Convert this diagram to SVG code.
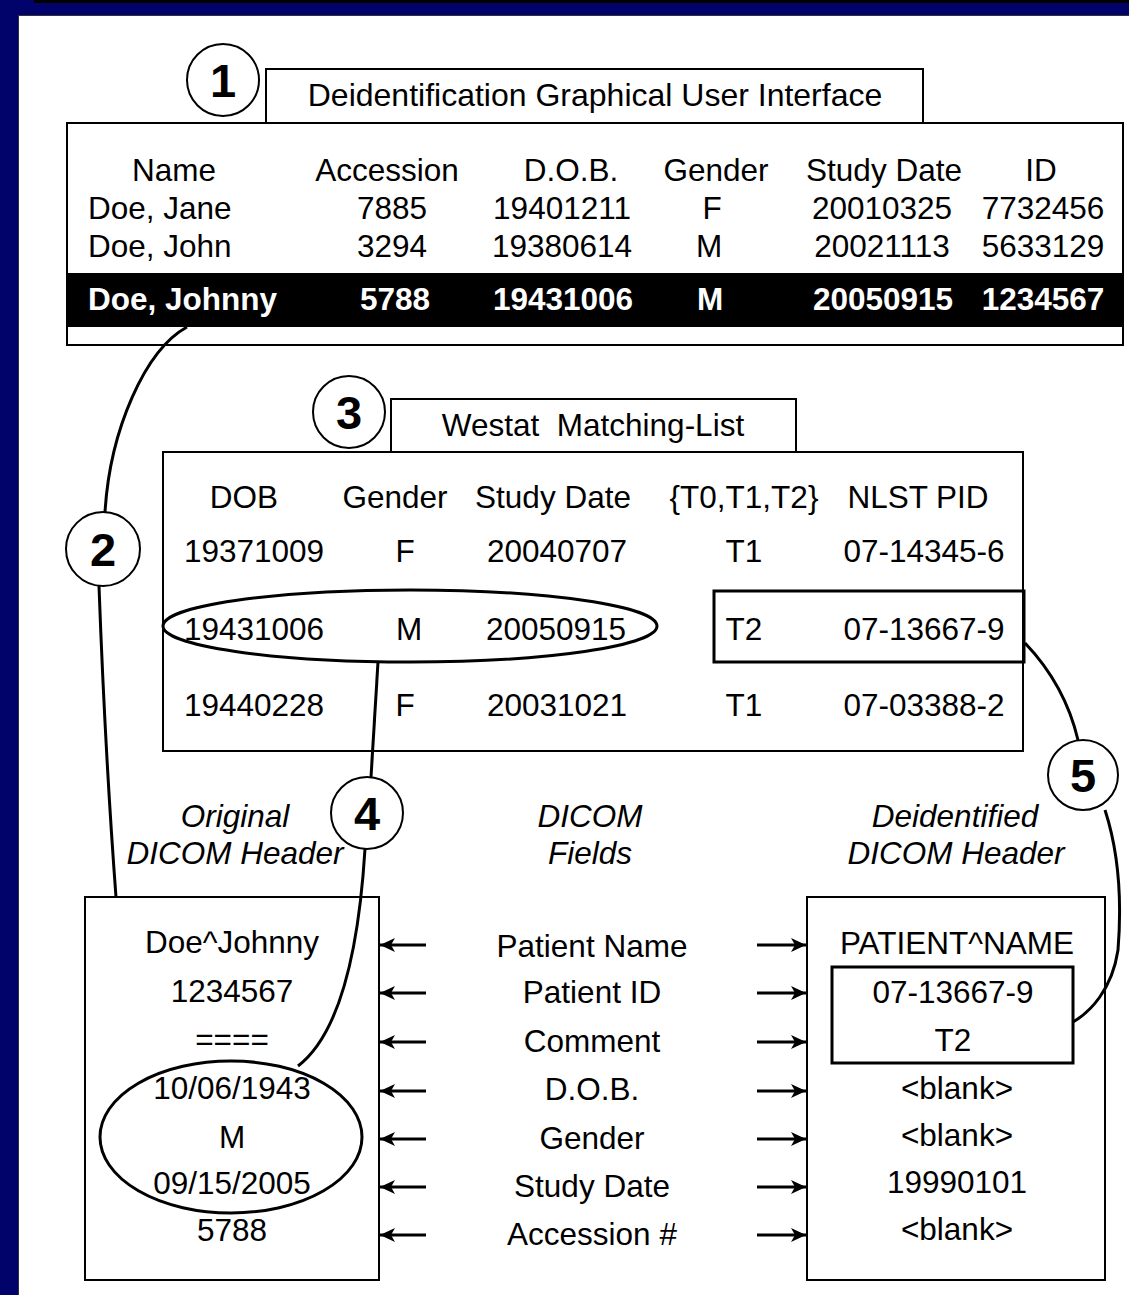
<svg xmlns="http://www.w3.org/2000/svg" width="1129" height="1295" viewBox="0 0 1129 1295">
<defs>
<style>
text{font-family:"Liberation Sans",Arial,sans-serif;font-size:31.5px;fill:#000}
.m{text-anchor:middle}
.t{font-size:32px}
.b{font-weight:bold;fill:#fff}
.i{font-style:italic}
.num{font-weight:bold;font-size:47px;text-anchor:middle}
.box{fill:#fff;stroke:#000;stroke-width:2}
.hl{fill:none;stroke:#000;stroke-width:3}
.circ{fill:#fff;stroke:#000;stroke-width:2}
.con{fill:none;stroke:#000;stroke-width:3}
.arr{stroke:#000;stroke-width:3;marker-end:url(#ah)}
</style>
<marker id="ah" markerUnits="userSpaceOnUse" markerWidth="18" markerHeight="16" viewBox="-16 -8 18 16" refX="0" refY="0" orient="auto">
<path d="M0,0 L-15,-7 L-11,0 L-15,7 Z" fill="#000"/>
</marker>
</defs>
<rect width="1129" height="1295" fill="#02026b"/>
<rect x="34" y="0" width="1095" height="3" fill="#000"/>
<rect x="18" y="15" width="1111" height="1280" fill="#333"/>
<rect x="19" y="16" width="1110" height="1279" fill="#fff"/>

<g id="gui">
<rect class="box" x="266" y="69" width="657" height="54"/>
<text class="m t" x="595" y="106">Deidentification Graphical User Interface</text>
<rect class="box" x="67" y="123" width="1056" height="222"/>
<rect x="67" y="273" width="1056" height="54" fill="#000"/>
<text class="m" x="174" y="181">Name</text>
<text class="m" x="387" y="181">Accession</text>
<text class="m" x="571" y="181">D.O.B.</text>
<text class="m" x="716" y="181">Gender</text>
<text class="m" x="884" y="181">Study Date</text>
<text class="m" x="1041" y="181">ID</text>
<text x="88" y="219">Doe, Jane</text>
<text class="m" x="392" y="219">7885</text>
<text class="m" x="562" y="219">19401211</text>
<text class="m" x="712" y="219">F</text>
<text class="m" x="882" y="219">20010325</text>
<text class="m" x="1043" y="219">7732456</text>
<text x="88" y="257">Doe, John</text>
<text class="m" x="392" y="257">3294</text>
<text class="m" x="562" y="257">19380614</text>
<text class="m" x="709" y="257">M</text>
<text class="m" x="882" y="257">20021113</text>
<text class="m" x="1043" y="257">5633129</text>
<text class="b" x="88" y="310">Doe, Johnny</text>
<text class="b m" x="395" y="310">5788</text>
<text class="b m" x="563" y="310">19431006</text>
<text class="b m" x="710" y="310">M</text>
<text class="b m" x="883" y="310">20050915</text>
<text class="b m" x="1043" y="310">1234567</text>
</g>

<g id="matching">
<rect class="box" x="391" y="399" width="405" height="53"/>
<text class="m" x="593" y="436" xml:space="preserve">Westat  Matching-List</text>
<rect class="box" x="163" y="452" width="860" height="299"/>
<text class="m" x="244" y="508">DOB</text>
<text class="m" x="395" y="508">Gender</text>
<text class="m" x="553" y="508">Study Date</text>
<text class="m" x="744" y="508">{T0,T1,T2}</text>
<text class="m" x="918" y="508">NLST PID</text>
<text class="m" x="254" y="562">19371009</text>
<text class="m" x="405" y="562">F</text>
<text class="m" x="557" y="562">20040707</text>
<text class="m" x="744" y="562">T1</text>
<text class="m" x="924" y="562">07-14345-6</text>
<text class="m" x="254" y="640">19431006</text>
<text class="m" x="409" y="640">M</text>
<text class="m" x="556" y="640">20050915</text>
<text class="m" x="744" y="640">T2</text>
<text class="m" x="924" y="640">07-13667-9</text>
<text class="m" x="254" y="716">19440228</text>
<text class="m" x="405" y="716">F</text>
<text class="m" x="557" y="716">20031021</text>
<text class="m" x="744" y="716">T1</text>
<text class="m" x="924" y="716">07-03388-2</text>
<ellipse class="hl" cx="410" cy="626" rx="247" ry="36"/>
<rect class="hl" x="714" y="591" width="310" height="71"/>
</g>

<g id="labels">
<text class="i m" x="235" y="827">Original</text>
<text class="i m" x="235" y="864">DICOM Header</text>
<text class="i m" x="590" y="827">DICOM</text>
<text class="i m" x="590" y="864">Fields</text>
<text class="i m" x="955" y="827">Deidentified</text>
<text class="i m" x="956" y="864">DICOM Header</text>
</g>

<g id="original">
<rect class="box" x="85" y="897" width="294" height="383"/>
<text class="m" x="232" y="953">Doe^Johnny</text>
<text class="m" x="232" y="1002">1234567</text>
<text class="m" x="232" y="1050">====</text>
<text class="m" x="232" y="1099">10/06/1943</text>
<text class="m" x="232" y="1148">M</text>
<text class="m" x="232" y="1194">09/15/2005</text>
<text class="m" x="232" y="1241">5788</text>
<ellipse class="hl" cx="231" cy="1137" rx="131" ry="76"/>
</g>

<g id="fields">
<text class="m" x="592" y="957">Patient Name</text>
<text class="m" x="592" y="1003">Patient ID</text>
<text class="m" x="592" y="1052">Comment</text>
<text class="m" x="592" y="1100">D.O.B.</text>
<text class="m" x="592" y="1149">Gender</text>
<text class="m" x="592" y="1197">Study Date</text>
<text class="m" x="592" y="1245">Accession #</text>
</g>

<g id="deidentified">
<rect class="box" x="807" y="897" width="298" height="383"/>
<text class="m" x="957" y="954">PATIENT^NAME</text>
<text class="m" x="953" y="1003">07-13667-9</text>
<text class="m" x="953" y="1051">T2</text>
<text class="m" x="957" y="1099">&lt;blank&gt;</text>
<text class="m" x="957" y="1146">&lt;blank&gt;</text>
<text class="m" x="957" y="1193">19990101</text>
<text class="m" x="957" y="1240">&lt;blank&gt;</text>
<rect class="hl" x="832" y="967" width="241" height="96"/>
</g>

<g id="connectors">
<path class="con" d="M187,327 C145,350 110,430 105,512"/>
<path class="con" d="M99,586 Q105,750 116,897"/>
<path class="con" d="M378,662 L371,777"/>
<path class="con" d="M365,849 C360,930 345,1030 298,1066"/>
<path class="con" d="M1025,643 Q1065,685 1078,740"/>
<path class="con" d="M1105,810 C1118,850 1122,900 1118,950 C1112,990 1090,1012 1073,1022"/>
<line class="arr" x1="426" y1="945" x2="380" y2="945"/>
<line class="arr" x1="426" y1="993" x2="380" y2="993"/>
<line class="arr" x1="426" y1="1042" x2="380" y2="1042"/>
<line class="arr" x1="426" y1="1091" x2="380" y2="1091"/>
<line class="arr" x1="426" y1="1139" x2="380" y2="1139"/>
<line class="arr" x1="426" y1="1187" x2="380" y2="1187"/>
<line class="arr" x1="426" y1="1235" x2="380" y2="1235"/>
<line class="arr" x1="757" y1="945" x2="806" y2="945"/>
<line class="arr" x1="757" y1="993" x2="806" y2="993"/>
<line class="arr" x1="757" y1="1042" x2="806" y2="1042"/>
<line class="arr" x1="757" y1="1091" x2="806" y2="1091"/>
<line class="arr" x1="757" y1="1139" x2="806" y2="1139"/>
<line class="arr" x1="757" y1="1187" x2="806" y2="1187"/>
<line class="arr" x1="757" y1="1235" x2="806" y2="1235"/>
</g>

<g id="step1"><circle class="circ" cx="223" cy="80" r="36"/><text class="num" x="223" y="97">1</text></g>
<g id="step2"><circle class="circ" cx="103" cy="549" r="37"/><text class="num" x="103" y="566">2</text></g>
<g id="step3"><circle class="circ" cx="349" cy="412" r="36"/><text class="num" x="349" y="429">3</text></g>
<g id="step4"><circle class="circ" cx="367" cy="813" r="36"/><text class="num" x="367" y="830">4</text></g>
<g id="step5"><circle class="circ" cx="1083" cy="775" r="35"/><text class="num" x="1083" y="792">5</text></g>
</svg>
